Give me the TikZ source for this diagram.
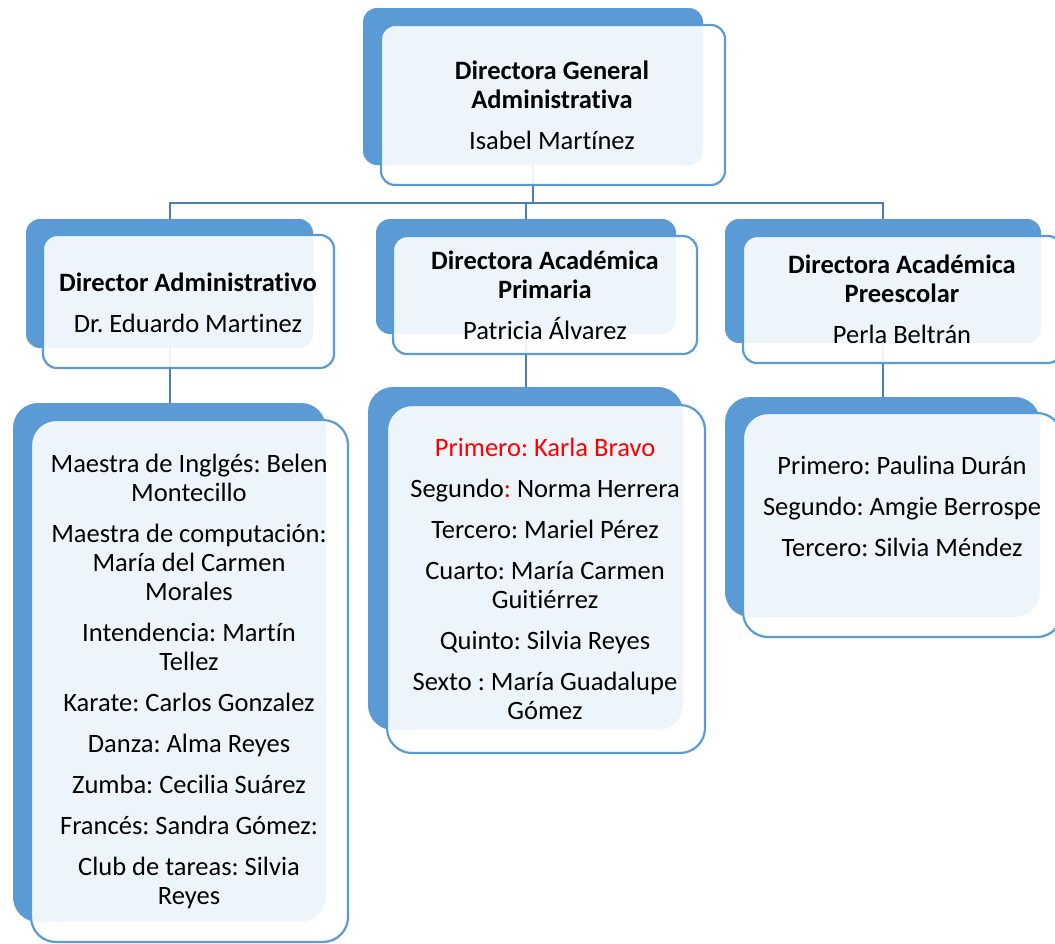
\documentclass[tikz,border=0pt]{standalone}
\usepackage{fontspec}
\setmainfont{Carlito}[Ligatures={NoCommon,NoRequired,NoContextual}]
\frenchspacing
\definecolor{boxblue}{HTML}{5B9BD5}
\definecolor{linkblue}{HTML}{4A7EBB}
\definecolor{redtxt}{HTML}{FF0000}
\pgfdeclarelayer{bg}
\pgfsetlayers{bg,main}
\tikzset{
  backbox/.style={rectangle, rounded corners=#1, fill=boxblue, draw=none, inner sep=0pt, outer sep=0pt},
  backbox/.default=14pt,
  frontbox/.style={rectangle, rounded corners=#1, fill=white, fill opacity=0.9, draw=boxblue, line width=2.2pt, inner sep=0pt, outer sep=0pt},
  frontbox/.default=14pt,
  txt/.style={align=center, font=\fontsize{26.5}{29}\selectfont\frenchspacing, text=black, inner sep=0pt},
  link/.style={draw=linkblue, line width=2pt}
}
\newcommand{\orgback}[6]{%
  \node[backbox=#6pt, minimum width={(#4-#2)*1pt}, minimum height={(#5-#3)*1pt}] (#1) at ({(#2+#4)/2},{(#3+#5)/2}) {};}
\newcommand{\orgfront}[6]{%
  \node[frontbox=#6pt, minimum width={(#4-#2)*1pt}, minimum height={(#5-#3)*1pt}] (#1) at ({(#2+#4)/2},{(#3+#5)/2}) {};}
\begin{document}
\begin{tikzpicture}[x=1pt,y=-1pt]
\useasboundingbox (0,0) rectangle (1055,943);
% top
\orgback{top}{363}{8}{703}{165}{14}
\orgfront{topf}{381}{25}{725}{185}{14}
\node[txt] (topt) at (552,105) {\textbf{Directora General}\\\textbf{Administrativa}\\[12pt]Isabel Martínez};
% row 2
\orgback{ltwo}{26}{219}{313}{348}{14}
\orgfront{ltwof}{43}{235}{334}{368}{14}
\node[txt] (ltwot) at (188,302.5) {\textbf{Director Administrativo}\\[12pt]Dr. Eduardo Martinez};
\orgback{mtwo}{376}{219}{676}{334}{14}
\orgfront{mtwof}{393}{236}{697}{354}{14}
\node[txt] (mtwot) at (545,295) {\textbf{Directora Académica}\\\textbf{Primaria}\\[12pt]Patricia Álvarez};
\orgback{rtwo}{725}{219}{1041}{343}{14}
\orgfront{rtwof}{743}{236}{1062}{363}{14}
\node[txt] (rtwot) at (902,299.5) {\textbf{Directora Académica}\\\textbf{Preescolar}\\[12pt]Perla Beltrán};
% row 3
\orgback{lthree}{13}{403}{326}{922}{25}
\orgfront{lthreef}{31}{420}{348}{942}{25}
\node[txt] (lthreet) at (189,681) {Maestra de Inglgés: Belen\\Montecillo\\[12pt]Maestra de computación:\\María del Carmen\\Morales\\[12pt]Intendencia: Martín\\Tellez\\[12pt]Karate: Carlos Gonzalez\\[12pt]Danza: Alma Reyes\\[12pt]Zumba: Cecilia Suárez\\[12pt]Francés: Sandra Gómez:\\[12pt]Club de tareas: Silvia\\Reyes};
\orgback{mthree}{368}{387}{683}{730}{25}
\orgfront{mthreef}{387}{405}{705}{753}{25}
\node[txt] (mthreet) at (545,578.5) {\textcolor{redtxt}{Primero: Karla Bravo}\\[12pt]Segundo\textcolor{redtxt}{:} Norma Herrera\\[12pt]Tercero: Mariel Pérez\\[12pt]Cuarto: María Carmen\\Guitiérrez\\[12pt]Quinto: Silvia Reyes\\[12pt]Sexto : María Guadalupe\\Gómez};
\orgback{rthree}{725}{397}{1040}{617}{25}
\orgfront{rthreef}{743}{413}{1062}{637}{25}
\node[txt] (rthreet) at (902,506) {Primero: Paulina Durán\\[12pt]Segundo: Amgie Berrospe\\[12pt]Tercero: Silvia Méndez};
% connectors
\coordinate (bus) at (0,203);
\begin{pgfonlayer}{bg}
\draw[link] (top.south) -- (top.south |- bus);
\draw[link] (ltwo.north) |- (rtwo.north |- bus) -- (rtwo.north);
\draw[link] (mtwo.north) -- (mtwo.north |- bus);
\draw[link] (ltwo.south) -- (ltwo.south |- lthree.north);
\draw[link] (mtwo.south) -- (mtwo.south |- mthree.north);
\draw[link] (rtwo.south) -- (rtwo.south |- rthree.north);
\end{pgfonlayer}
\end{tikzpicture}
\end{document}
